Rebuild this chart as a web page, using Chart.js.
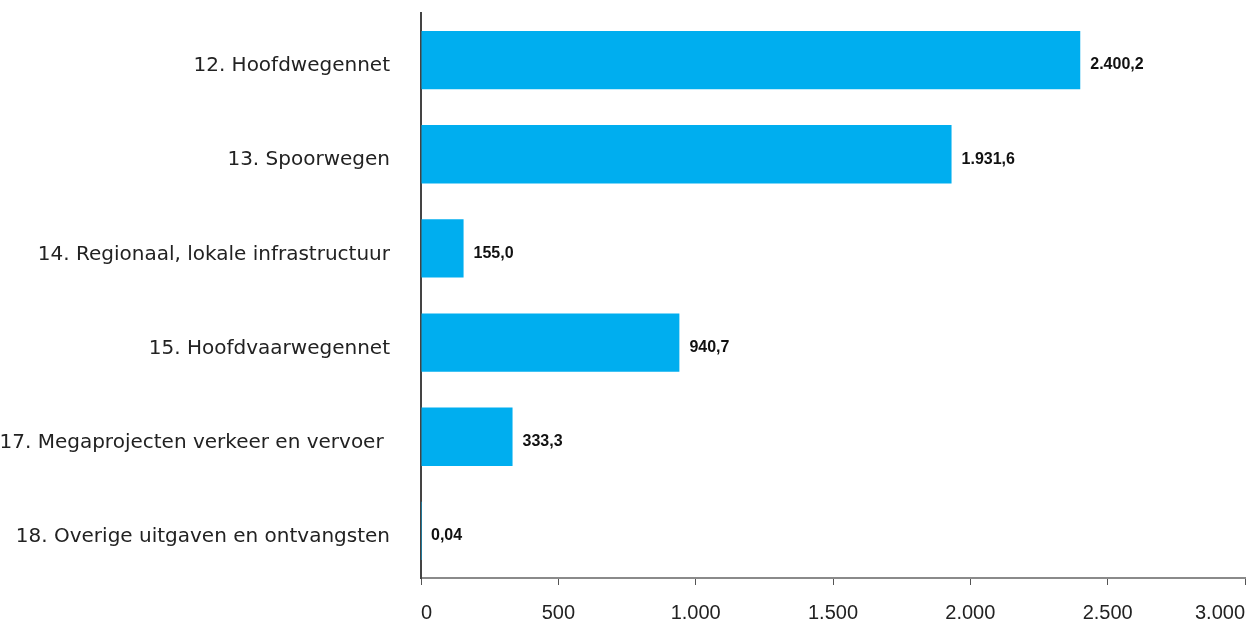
<!DOCTYPE html>
<html lang="nl">
<head>
<meta charset="UTF-8">
<title>Uitgaven per artikel</title>
<script src="https://cdn.jsdelivr.net/npm/chart.js"></script>
<style>
    html, body {
        margin: 0;
        padding: 0;
        background: #fff;
    }
    #wrap {
        width: 1250px;
        height: 621px;
    }
</style>
</head>
<body>
<div id="wrap"><canvas id="chart" width="1250" height="621"></canvas></div>
<script>
    const categories = [
        '12. Hoofdwegennet',
        '13. Spoorwegen',
        '14. Regionaal, lokale infrastructuur',
        '15. Hoofdvaarwegennet',
        '17. Megaprojecten verkeer en vervoer ',
        '18. Overige uitgaven en ontvangsten'
    ];
    const values = [2400.2, 1931.6, 155.0, 940.7, 333.3, 0.04];
    const decimals = [1, 1, 1, 1, 1, 2];
    const xTicks = [0, 500, 1000, 1500, 2000, 2500, 3000];

    // Dutch number format: dot for thousands, comma for decimals
    function nl(n, d) {
        const parts = n.toFixed(d).split('.');
        parts[0] = parts[0].replace(/\B(?=(\d{3})+(?!\d))/g, '.');
        return parts.join(',');
    }

    function noPadding(axis) {
        axis.paddingLeft = 0;
        axis.paddingRight = 0;
        axis.paddingTop = 0;
        axis.paddingBottom = 0;
    }

    const valueLabels = {
        id: 'valueLabels',
        afterDatasetsDraw(chart) {
            const ctx = chart.ctx;
            const meta = chart.getDatasetMeta(0);
            ctx.save();
            ctx.font = 'bold 16px "Liberation Sans", Arial, sans-serif';
            ctx.fillStyle = '#111';
            ctx.textAlign = 'left';
            ctx.textBaseline = 'middle';
            meta.data.forEach((bar, i) => {
                ctx.fillText(nl(values[i], decimals[i]), bar.x + 10, bar.y + 5);
            });
            ctx.restore();
        }
    };

    new Chart(document.getElementById('chart'), {
        type: 'bar',
        data: {
            labels: categories,
            datasets: [{
                data: values,
                backgroundColor: '#00AEEF',
                borderWidth: 0,
                barPercentage: 0.62,
                categoryPercentage: 1.0
            }]
        },
        options: {
            indexAxis: 'y',
            responsive: false,
            animation: false,
            layout: {
                padding: { top: 13, right: 5, left: 0, bottom: 0 }
            },
            plugins: {
                legend: { display: false },
                tooltip: { enabled: false }
            },
            scales: {
                x: {
                    min: 0,
                    max: 3000,
                    afterBuildTicks(axis) {
                        axis.ticks = xTicks.map(v => ({ value: v }));
                    },
                    afterFit(axis) {
                        axis.height = 43;
                        noPadding(axis);
                    },
                    border: { display: true, color: '#8a8a8a', width: 2 },
                    grid: {
                        display: true,
                        drawOnChartArea: false,
                        drawTicks: true,
                        tickLength: 7,
                        color: '#555',
                        lineWidth: 1
                    },
                    ticks: {
                        padding: 16,
                        align: 'inner',
                        color: '#222',
                        font: { family: '"Liberation Sans", Arial, sans-serif', size: 20 },
                        callback: v => nl(v, 0)
                    }
                },
                y: {
                    afterFit(axis) {
                        axis.width = 421;
                        noPadding(axis);
                        // category labels sit a little below the bar centre in the original
                        if (!axis._shifted) {
                            const draw = axis.drawLabels;
                            axis.drawLabels = function (area) {
                                this.ctx.save();
                                this.ctx.translate(0, 6);
                                draw.call(this, area);
                                this.ctx.restore();
                            };
                            axis._shifted = true;
                        }
                    },
                    border: { display: true, color: '#444', width: 2 },
                    grid: { display: false, drawTicks: false },
                    ticks: {
                        padding: 31,
                        color: '#222',
                        font: { family: '"DejaVu Sans", sans-serif', size: 20 }
                    }
                }
            }
        },
        plugins: [valueLabels]
    });
</script>
</body>
</html>
